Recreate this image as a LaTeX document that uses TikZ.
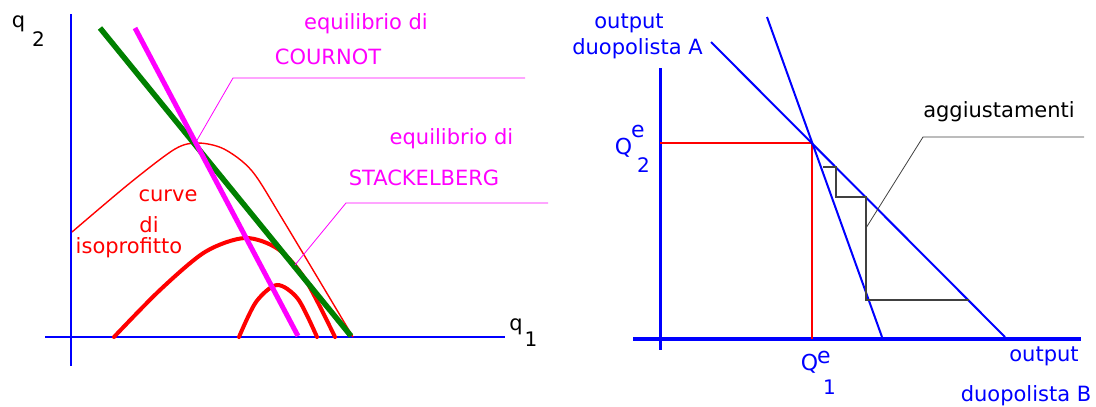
\documentclass[tikz,border=0pt]{standalone}
\usepackage{fontspec}
\setmainfont{DejaVu Sans}
\definecolor{dgreen}{RGB}{0,128,0}
\definecolor{pmag}{RGB}{255,0,255}
\tikzset{
  lbl/.style={inner sep=0pt,anchor=center},
  axis/.style={blue,line width=2.5pt},
  leader/.style={pmag,line width=0.8pt},
  isothin/.style={red,line width=1.4pt},
  isothick/.style={red,line width=4pt,line cap=round},
}
\begin{document}
\begin{tikzpicture}[x=1pt,y=-1pt,font=\fontsize{21}{25}\selectfont]
\useasboundingbox (0,0) rectangle (1096,407);
\draw[axis] (45,337)--(505,337);
\draw[axis,line width=2pt] (71,14)--(71,366);
\node[lbl] (q2) at (18.5,23.5) {q};
\node[lbl,font=\fontsize{20}{24}\selectfont] (q2sub) at (38.5,39.5) {2};
\node[lbl] (q1) at (516,327) {q};
\node[lbl,font=\fontsize{20}{24}\selectfont] (q1sub) at (531,339.5) {1};
\draw[isothin] plot[smooth] coordinates {(72,232) (130,183) (175,149) (198,143) (224,149) (252,171) (283,220) (353,337)};
\draw[isothick] plot[smooth] coordinates {(114,337) (160,290) (205,252) (245,238) (278,249) (305,279) (335,337)};
\draw[isothick] plot[smooth] coordinates {(239,337) (256,302) (277,285) (298,299) (317,337)};
\draw[dgreen,line width=5.5pt] (100,28)--(351,336);
\draw[pmag,line width=5pt] (135,28)--(298,336);
\coordinate (cournot) at (196,142);
\coordinate (stack) at (295,265);
\draw[leader] (cournot)--(233,78)--(525,78);
\draw[leader] (stack)--(346,203)--(548,203);
\node[lbl,pmag] (eqc) at (366,23.5) {equilibrio di};
\node[lbl,pmag] (cour) at (328,56.5) {COURNOT};
\node[lbl,pmag] (eqs) at (451.5,138.5) {equilibrio di};
\node[lbl,pmag] (stk) at (424,177.5) {STACKELBERG};
\node[lbl,red] (curve) at (168,195.5) {curve};
\node[lbl,red] (di) at (149,224.5) {di};
\node[lbl,red] (isop) at (129,247.5) {isoprofitto};
\draw[axis,line width=4pt] (633,339)--(1081,339);
\draw[axis,line width=3pt] (660,68)--(660,350);
\coordinate (eq) at (812,143);
\draw[red,line width=1.2pt] (660,143)--(eq)--(812,339);
\draw[blue,line width=2pt] (767,17)--(882,337);
\draw[blue,line width=2pt] (711,42)--(1005,337);
\draw[black!75,line width=1.2pt] (823,167)--(836,167)--(836,197)--(866,197)--(866,300)--(969,300);
\coordinate (adj) at (866,228);
\draw[black!75,line width=0.8pt] (adj)--(923,137)--(1084,137);
\node[lbl,blue] (outa) at (629,23.5) {output};
\node[lbl,blue] (duoa) at (637.5,49) {duopolista A};
\node[lbl,blue,font=\fontsize{22}{26}\selectfont] (Q2) at (623.5,148) {Q};
\node[lbl,blue,font=\fontsize{22}{26}\selectfont] (Q2e) at (638,131.5) {e};
\node[lbl,blue,font=\fontsize{20}{24}\selectfont] (Q2sub) at (643.5,165.5) {2};
\node[lbl] (agg) at (999,111.5) {aggiustamenti};
\node[lbl,blue,font=\fontsize{22}{26}\selectfont] (Q1) at (809.5,364) {Q};
\node[lbl,blue,font=\fontsize{22}{26}\selectfont] (Q1e) at (824,357.5) {e};
\node[lbl,blue,font=\fontsize{20}{24}\selectfont] (Q1sub) at (829.5,387.5) {1};
\node[lbl,blue] (outb) at (1044,356.5) {output};
\node[lbl,blue] (duob) at (1026,396) {duopolista B};
\end{tikzpicture}
\end{document}
